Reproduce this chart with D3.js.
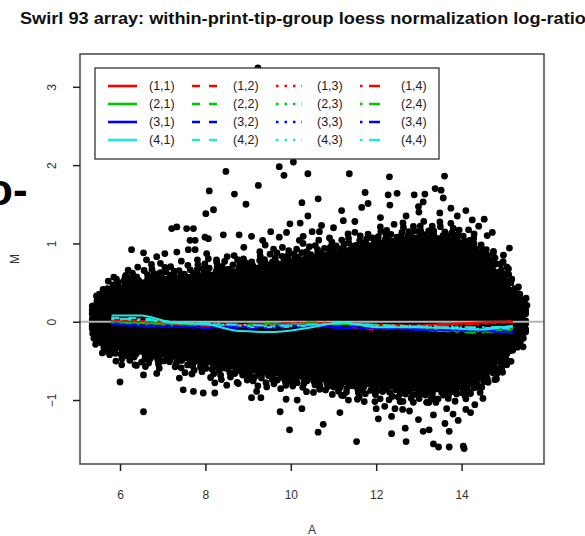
<!DOCTYPE html>
<html>
<head>
<meta charset="utf-8">
<script src="https://cdnjs.cloudflare.com/ajax/libs/d3/7.8.5/d3.min.js"></script>
<style>
  body { margin: 0; background: #fff; }
  svg { display: block; font-family: "Liberation Sans", Arial, sans-serif; }
</style>
</head>
<body>
<div id="chart"></div>
<script>
// ---- data ----
var xTicks = [6, 8, 10, 12, 14];
var yTicks = [-1, 0, 1, 2, 3];

// solid black core of the MA cloud (upper / lower edge per A)
var massA     = [5.35, 5.5, 5.8, 6.3, 7.0, 8.0, 9.0, 10.0, 11.0, 12.0, 13.0, 14.0, 14.5, 15.0, 15.3, 15.5];
var massUpper = [0.1, 0.25, 0.4, 0.48, 0.55, 0.6, 0.68, 0.78, 0.88, 1.0, 1.08, 1.02, 0.82, 0.52, 0.3, 0.1];
var massLower = [-0.1, -0.22, -0.32, -0.38, -0.43, -0.52, -0.62, -0.7, -0.77, -0.82, -0.87, -0.85, -0.7, -0.42, -0.22, -0.05];
// looser band of spots round the core
var fringeUpper = [0.2, 0.38, 0.55, 0.68, 0.75, 0.8, 0.87, 0.97, 1.08, 1.2, 1.28, 1.22, 1.02, 0.75, 0.48, 0.2];
var fringeLower = [-0.2, -0.35, -0.48, -0.55, -0.6, -0.7, -0.8, -0.87, -0.93, -0.98, -1.03, -1.0, -0.88, -0.62, -0.38, -0.14];

// spots lying outside the solid core
var pointA = [9.23, 10.06, 9.73, 9.84, 10.40, 8.48, 11.37, 12.31, 13.60, 9.24, 8.09, 8.68, 11.74, 12.28, 12.49, 12.89,
  13.14, 13.38, 13.52, 13.57, 8.95, 10.26, 10.64, 11.66, 12.32, 12.99, 13.10, 8.01, 8.19, 10.40, 11.19, 11.23,
  11.81, 13.49, 14.53, 14.72, 7.21, 7.33, 7.56, 7.72, 9.98, 10.22, 10.72, 9.90, 10.67, 6.27, 7.64, 7.76, 7.99,
  8.07, 8.42, 8.79, 9.08, 9.34, 9.53, 9.73, 10.20, 10.29, 15.12, 14.74, 14.98, 15.06, 14.71, 14.98, 6.55, 6.62,
  6.86, 7.05, 7.33, 7.60, 7.76, 8.03, 8.26, 6.19, 6.12, 6.23, 15.51, 15.53, 15.45,
  6.55, 6.00, 6.55, 6.04, 6.35, 6.86, 7.39, 7.48, 7.72, 7.95, 8.22, 8.22, 8.50, 8.77, 9.08, 9.30, 9.20, 9.75,
  9.97, 9.89, 10.26, 10.15, 10.64, 10.76, 11.15, 11.19, 11.35, 11.54, 11.56, 11.72, 12.00, 12.05, 12.36, 12.44,
  12.36, 12.62, 12.78, 12.68, 12.70, 12.99, 12.87, 13.10, 13.24, 13.34, 13.18, 13.38, 13.34, 13.46, 13.65, 13.61,
  13.71, 13.71, 13.92, 14.04, 14.06, 14.21, 14.31, 14.35, 14.78, 15.44, 15.06, 14.94, 11.97, 12.56,
  13.75, 13.9, 14.1, 14.25, 14.4, 14.6, 13.0, 12.7, 12.1, 11.5, 11.0, 10.5, 9.4, 8.9, 14.1, 13.8, 14.5, 12.2];
var pointM = [3.24, 2.04, 1.98, 1.87, 1.89, 1.92, 1.89, 1.85, 1.86, 1.74, 1.67, 1.63, 1.65, 1.62, 1.64, 1.62,
  1.63, 1.70, 1.68, 1.58, 1.50, 1.52, 1.57, 1.46, 1.49, 1.47, 1.53, 1.38, 1.43, 1.35, 1.42, 1.29,
  1.51, 1.39, 1.31, 1.14, 1.19, 1.21, 1.19, 1.19, 1.25, 1.26, 1.23, 1.14, 1.15, 0.92, 1.04, 1.04, 1.08,
  1.06, 1.11, 1.11, 1.09, 1.04, 1.15, 1.08, 1.04, 1.09, 0.94, 0.87, 0.85, 0.70, 0.77, 0.60, 0.88, 0.79,
  0.83, 0.87, 0.89, 0.92, 0.92, 0.87, 0.79, 0.66, 0.57, 0.55, 0.30, 0.21, 0.12,
  -1.15, -0.77, -0.68, -0.55, -0.55, -0.66, -0.72, -0.87, -0.89, -0.91, -0.91, -0.78, -0.81, -0.79, -0.97, -0.97, -0.89, -1.15,
  -1.38, -0.99, -1.11, -1.00, -1.41, -1.31, -1.16, -0.94, -1.00, -1.53, -0.99, -1.02, -1.11, -1.24, -1.21, -1.11,
  -1.43, -1.12, -1.14, -1.36, -1.53, -1.25, -1.03, -1.40, -1.38, -1.19, -1.03, -1.00, -1.56, -1.60, -1.11, -1.30,
  -1.40, -1.60, -1.26, -1.59, -1.62, -1.16, -1.06, -0.83, -0.74, -0.32, -0.55, -0.47, -1.02, -1.02,
  1.45, 1.35, 1.42, 1.3, 1.22, 1.1, 1.4, 1.35, 1.33, 1.28, 1.2, 1.15, 0.98, 0.95, -1.12, -1.18, -0.98, -1.08];

// loess curves of the 16 print-tip groups, same A knots for all
var groupNames = ["(1,1)", "(2,1)", "(3,1)", "(4,1)", "(1,2)", "(2,2)", "(3,2)", "(4,2)",
                  "(1,3)", "(2,3)", "(3,3)", "(4,3)", "(1,4)", "(2,4)", "(3,4)", "(4,4)"];
var loessA = [5.8, 6.5, 7.2, 8.0, 8.8, 9.6, 10.4, 11.2, 12.0, 12.8, 13.6, 14.4, 15.2];
var loessM = [
  [0.03, 0.01, -0.01, -0.03, -0.04, -0.03, -0.02, -0.02, -0.04, -0.05, -0.03, -0.01, 0.0],
  [0.0, -0.02, -0.03, -0.05, -0.06, -0.04, -0.03, -0.03, -0.06, -0.09, -0.12, -0.12, -0.1],
  [-0.03, -0.05, -0.06, -0.07, -0.06, -0.05, -0.05, -0.08, -0.08, -0.1, -0.11, -0.12, -0.14],
  [0.08, 0.08, -0.01, -0.03, -0.12, -0.13, -0.08, -0.01, -0.07, -0.07, -0.08, -0.1, -0.05],
  [0.02, 0.0, -0.04, -0.06, -0.05, -0.03, -0.02, -0.05, -0.1, -0.07, -0.04, -0.02, 0.0],
  [-0.01, -0.02, -0.03, -0.04, -0.04, -0.02, -0.03, -0.05, -0.06, -0.08, -0.11, -0.13, -0.12],
  [-0.02, -0.04, -0.05, -0.06, -0.08, -0.07, -0.05, -0.06, -0.07, -0.09, -0.1, -0.11, -0.13],
  [0.05, 0.04, 0.0, -0.03, -0.06, -0.07, -0.05, -0.03, -0.04, -0.06, -0.07, -0.08, -0.08],
  [0.01, -0.01, -0.02, -0.04, -0.06, -0.05, -0.03, -0.03, -0.06, -0.08, -0.06, -0.03, -0.01],
  [-0.02, -0.03, -0.04, -0.05, -0.05, -0.04, -0.03, -0.03, -0.05, -0.07, -0.1, -0.12, -0.1],
  [-0.04, -0.06, -0.07, -0.06, -0.07, -0.08, -0.06, -0.07, -0.09, -0.1, -0.12, -0.11, -0.12],
  [0.03, 0.02, -0.01, -0.03, -0.05, -0.06, -0.04, -0.02, -0.04, -0.05, -0.06, -0.09, -0.07],
  [0.0, -0.01, -0.03, -0.05, -0.04, -0.03, -0.01, -0.02, -0.06, -0.09, -0.05, -0.02, 0.01],
  [-0.01, -0.02, -0.02, -0.04, -0.05, -0.05, -0.02, -0.03, -0.04, -0.08, -0.12, -0.14, -0.1],
  [-0.03, -0.05, -0.06, -0.08, -0.06, -0.05, -0.04, -0.07, -0.08, -0.09, -0.11, -0.12, -0.14],
  [0.04, 0.03, 0.0, -0.02, -0.04, -0.05, -0.04, -0.02, -0.05, -0.06, -0.07, -0.07, -0.06]
];

var colours = ["#ff0000", "#00c800", "#0000ff", "#22e6e6"];
var dashes = [null, "8,9", "2.5,6", "2.5,6.5,11,6.5"];

// ---- layout ----
var W = 585, H = 536;
var box = { left: 80, right: 544, top: 54, bottom: 464 };

var svg = d3.select("#chart").append("svg")
  .attr("width", W).attr("height", H);

var x = d3.scaleLinear().domain([5.063, 15.93]).range([box.left, box.right]);
var y = d3.scaleLinear().domain([-1.817, 3.419]).range([box.bottom, box.top]);

// stray slide text at the left margin
svg.append("text")
  .attr("x", -14).attr("y", 205)
  .attr("font-size", 44).attr("font-weight", "bold")
  .attr("fill", "#000")
  .text("o-");

// title (runs off the right edge, as in the original)
svg.append("text")
  .attr("x", 20).attr("y", 24)
  .attr("font-size", 16).attr("font-weight", "bold")
  .attr("fill", "#111")
  .attr("textLength", 576).attr("lengthAdjust", "spacingAndGlyphs")
  .text("Swirl 93 array: within-print-tip-group loess normalization log-ratios");

var plot = svg.append("g");

// cloud: solid core, ragged rings of spots round it
function band(k) {
  return d3.area()
    .x(function(d) { return x(d.a); })
    .y0(function(d) { return y(d.lo + k * (d.flo - d.lo)); })
    .y1(function(d) { return y(d.hi + k * (d.fhi - d.hi)); })
    .curve(d3.curveCatmullRom);
}
var massData = massA.map(function(a, i) {
  return { a: a, hi: massUpper[i], lo: massLower[i], fhi: fringeUpper[i], flo: fringeLower[i] };
});
var rings = [
  { k: 1.0, dash: "0,11,0,19,0,7,0,26,0,14,0,9,0,21,0,16", off: 0 },
  { k: 0.7, dash: "0,8,0,13,0,6,0,17,0,10,0,7,0,12", off: 5 },
  { k: 0.4, dash: "0,6,0,8,0,5,0,11,0,7,0,6", off: 3 }
];
rings.forEach(function(r) {
  plot.append("path")
    .datum(massData)
    .attr("d", band(r.k))
    .attr("fill", "none").attr("stroke", "#000")
    .attr("stroke-width", 6.8).attr("stroke-linecap", "round")
    .attr("stroke-dasharray", r.dash)
    .attr("stroke-dashoffset", r.off);
});
plot.append("path")
  .datum(massData)
  .attr("d", band(0.15))
  .attr("fill", "#000").attr("stroke", "#000")
  .attr("stroke-width", 6.8).attr("stroke-linecap", "round")
  .attr("stroke-dasharray", "0,4,0,7,0,3,0,9");

plot.selectAll("circle.pt")
  .data(pointA)
  .enter().append("circle")
  .attr("class", "pt")
  .attr("cx", function(d) { return x(d); })
  .attr("cy", function(d, i) { return y(pointM[i]); })
  .attr("r", 3.4)
  .attr("fill", "#000");

// zero line
plot.append("line")
  .attr("x1", box.left).attr("x2", box.right)
  .attr("y1", y(0)).attr("y2", y(0))
  .attr("stroke", "#b4b4b4").attr("stroke-width", 2);

// loess curves, cyan solid on top
var line = d3.line()
  .x(function(d, i) { return x(loessA[i]); })
  .y(function(d) { return y(d); })
  .curve(d3.curveMonotoneX);

var order = d3.range(16).filter(function(i) { return i !== 3; }).concat([3]);
plot.selectAll("path.lo")
  .data(order)
  .enter().append("path")
  .attr("class", "lo")
  .attr("d", function(i) { return line(loessM[i]); })
  .attr("fill", "none")
  .attr("stroke", function(i) { return colours[i % 4]; })
  .attr("stroke-width", 2)
  .attr("stroke-dasharray", function(i) { return dashes[Math.floor(i / 4)]; });

// box
svg.append("rect")
  .attr("x", box.left).attr("y", box.top)
  .attr("width", box.right - box.left).attr("height", box.bottom - box.top)
  .attr("fill", "none").attr("stroke", "#444").attr("stroke-width", 1.5);

// axes
var xAxis = svg.append("g")
  .attr("transform", "translate(0," + box.bottom + ")")
  .call(d3.axisBottom(x).tickValues(xTicks).tickSize(7).tickFormat(d3.format("d")));
var yAxis = svg.append("g")
  .attr("transform", "translate(" + box.left + ",0)")
  .call(d3.axisLeft(y).tickValues(yTicks).tickSize(7).tickFormat(d3.format("d")));

[xAxis, yAxis].forEach(function(ax) {
  ax.select(".domain").remove();
  ax.selectAll(".tick line").attr("stroke", "#222").attr("stroke-width", 1.5);
  ax.selectAll(".tick text")
    .attr("fill", "#333")
    .attr("font-size", 12)
    .attr("font-family", "Liberation Sans, Arial, sans-serif");
});
xAxis.selectAll(".tick text").attr("y", 31).attr("dy", "0.35em");
yAxis.selectAll(".tick text")
  .attr("x", 0).attr("y", 0).attr("dy", "0.35em")
  .attr("text-anchor", "middle")
  .attr("transform", "translate(-28,0) rotate(-90)");

// axis titles
svg.append("text")
  .attr("x", (box.left + box.right) / 2).attr("y", 534)
  .attr("text-anchor", "middle").attr("font-size", 12).attr("fill", "#333")
  .text("A");
svg.append("text")
  .attr("transform", "translate(19," + ((box.top + box.bottom) / 2) + ") rotate(-90)")
  .attr("text-anchor", "middle").attr("font-size", 12).attr("fill", "#333")
  .text("M");

// legend
var lg = svg.append("g");
lg.append("rect")
  .attr("x", 95).attr("y", 68).attr("width", 344).attr("height", 91)
  .attr("fill", "#fff").attr("stroke", "#333").attr("stroke-width", 1.3);

var items = lg.selectAll("g.item")
  .data(d3.range(16))
  .enter().append("g")
  .attr("class", "item")
  .attr("transform", function(i) {
    return "translate(" + (108 + Math.floor(i / 4) * 84) + "," + (86 + (i % 4) * 18) + ")";
  });
items.append("line")
  .attr("x1", 0).attr("x2", function(i) { return i < 4 ? 29 : 26; })
  .attr("y1", 0).attr("y2", 0)
  .attr("stroke", function(i) { return colours[i % 4]; })
  .attr("stroke-width", 2.6)
  .attr("stroke-dasharray", function(i) { return dashes[Math.floor(i / 4)]; });
items.append("text")
  .attr("x", 41).attr("y", 0).attr("dy", "0.35em")
  .attr("font-size", 12.5).attr("fill", "#222")
  .text(function(i) { return groupNames[i]; });
</script>
</body>
</html>
